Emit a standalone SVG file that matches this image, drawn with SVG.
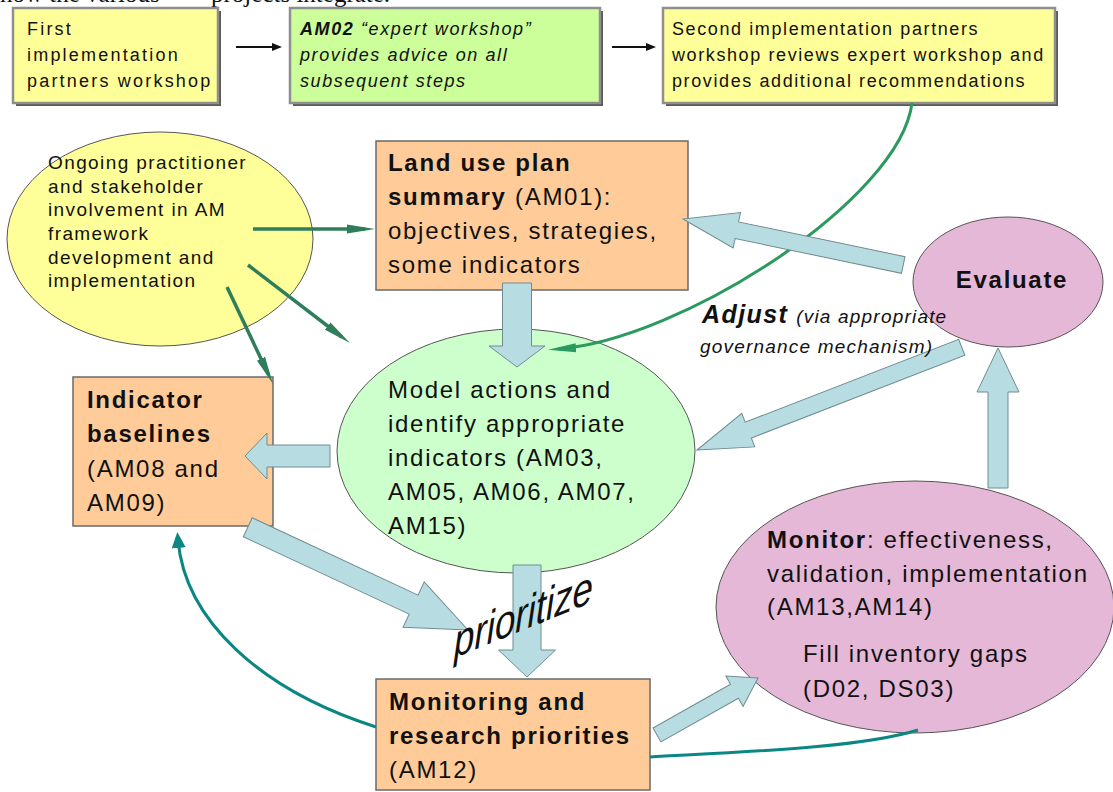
<svg xmlns="http://www.w3.org/2000/svg" width="1113" height="792" viewBox="0 0 1113 792">
<style>
text{font-family:"Liberation Sans",Arial,sans-serif;fill:#111}
.cap{font-family:"Liberation Serif","Times New Roman",serif;font-size:25px}
.t18{font-size:18px;letter-spacing:1.6px}
.t19{font-size:19px;letter-spacing:1.4px}
.t24{font-size:24px;letter-spacing:1.7px}
.b{font-weight:bold}
.i{font-style:italic}
.shadow{fill:#5a5a5a}
.tb{stroke:#8f8f8f;stroke-width:2.5}
.yel{fill:#ffff99}
.lg{fill:#ccff99}
.org{fill:#ffcc99;stroke:#6a6a6a;stroke-width:1.5}
.ye{fill:#ffff99;stroke:#555;stroke-width:1}
.ge{fill:#ccffcc;stroke:#555;stroke-width:1}
.pe{fill:#e5b8d7;stroke:#555;stroke-width:1}
.ba{fill:#b7dde3;stroke:#6f8c90;stroke-width:1}
.gl{stroke:#2e7d5b;stroke-width:3.5;fill:none}
.gc{stroke:#2a9a5e;stroke-width:3;fill:none}
.tl{stroke:#0b8783;stroke-width:3;fill:none}
.bk{stroke:#111;stroke-width:2;fill:none}
</style>
<defs>
<marker id="gh" markerUnits="userSpaceOnUse" viewBox="0 0 30 10" markerWidth="30" markerHeight="10" refX="18" refY="5" orient="auto"><path d="M0,0.5 L28,5 L0,9.5 z" fill="#2e7d5b"/></marker>
<marker id="gch" markerUnits="userSpaceOnUse" viewBox="0 0 30 10" markerWidth="30" markerHeight="10" refX="18" refY="5" orient="auto"><path d="M0,0.5 L28,5 L0,9.5 z" fill="#2a9a5e"/></marker>
<marker id="th" markerUnits="userSpaceOnUse" viewBox="0 0 16 14" markerWidth="16" markerHeight="14" refX="8" refY="7" orient="auto"><path d="M0,0 L16,7 L0,14 z" fill="#0b8783"/></marker>
<marker id="bh" markerUnits="userSpaceOnUse" viewBox="0 0 10 8" markerWidth="10" markerHeight="8" refX="4" refY="4" orient="auto"><path d="M0,0 L10,4 L0,8 z" fill="#111"/></marker>
</defs>
<rect width="1113" height="792" fill="#ffffff"/>
<g id="caption">
<text class="cap" x="0" y="2">how the various</text>
<text class="cap" x="211" y="2">projects integrate.</text>
</g>

<g id="box1">
<rect class="shadow" x="16" y="11" width="205" height="95"/>
<rect class="yel tb" x="13" y="8" width="205" height="95"/>
<text class="t18" x="27" style="letter-spacing:2.2px"><tspan x="27" y="35">First</tspan><tspan x="27" y="61">implementation</tspan><tspan x="27" y="87">partners workshop</tspan></text>
</g>
<g id="box2">
<rect class="shadow" x="293" y="11" width="310" height="95"/>
<rect class="lg tb" x="290" y="8" width="310" height="95"/>
<text class="t18 i" x="300"><tspan x="300" y="35"><tspan class="b">AM02</tspan> “expert workshop”</tspan><tspan x="300" y="61">provides advice on all</tspan><tspan x="300" y="87">subsequent steps</tspan></text>
</g>
<g id="box3">
<rect class="shadow" x="666" y="11" width="392" height="95"/>
<rect class="yel tb" x="663" y="8" width="392" height="95"/>
<text class="t18" x="672"><tspan x="672" y="35">Second implementation partners</tspan><tspan x="672" y="61">workshop reviews expert workshop and</tspan><tspan x="672" y="87">provides additional recommendations</tspan></text>
</g>
<g id="ongoing">
<ellipse class="ye" cx="160" cy="239" rx="153" ry="107"/>
<text class="t19" x="48"><tspan x="48" y="169">Ongoing practitioner</tspan><tspan x="48" y="193">and stakeholder</tspan><tspan x="48" y="216">involvement in AM</tspan><tspan x="48" y="240">framework</tspan><tspan x="48" y="264">development and</tspan><tspan x="48" y="287">implementation</tspan></text>
</g>
<g id="landuse">
<rect class="org" x="376" y="141" width="312" height="149"/>
<text class="t24" x="388"><tspan x="388" y="171" class="b">Land use plan</tspan><tspan x="388" y="205"><tspan class="b">summary</tspan> (AM01):</tspan><tspan x="388" y="239">objectives, strategies,</tspan><tspan x="388" y="273">some indicators</tspan></text>
</g>
<g id="evaluate">
<ellipse class="pe" cx="1008" cy="282" rx="95" ry="65"/>
<text class="t24 b" x="1012" y="288" text-anchor="middle">Evaluate</text>
</g>
<g id="model">
<ellipse class="ge" cx="516" cy="451" rx="179" ry="122"/>
<text class="t24" x="388"><tspan x="388" y="398">Model actions and</tspan><tspan x="388" y="432">identify appropriate</tspan><tspan x="388" y="466">indicators (AM03,</tspan><tspan x="388" y="500">AM05, AM06, AM07,</tspan><tspan x="388" y="534">AM15)</tspan></text>
</g>
<g id="indicator">
<rect class="org" x="73" y="377" width="200" height="149"/>
<text class="t24" x="87"><tspan x="87" y="408" class="b">Indicator</tspan><tspan x="87" y="442" class="b">baselines</tspan><tspan x="87" y="477">(AM08 and</tspan><tspan x="87" y="511">AM09)</tspan></text>
</g>
<g id="monitor">
<ellipse class="pe" cx="915" cy="607" rx="199" ry="126"/>
<text class="t24" x="767"><tspan x="767" y="548"><tspan class="b">Monitor</tspan>: effectiveness,</tspan><tspan x="767" y="582">validation, implementation</tspan><tspan x="767" y="615">(AM13,AM14)</tspan><tspan x="803" y="662">Fill inventory gaps</tspan><tspan x="803" y="697">(D02, DS03)</tspan></text>
</g>
<g id="monitoring">
<rect class="org" x="376" y="679" width="274" height="111"/>
<text class="t24" x="389"><tspan x="389" y="710" class="b">Monitoring and</tspan><tspan x="389" y="744" class="b">research priorities</tspan><tspan x="389" y="778">(AM12)</tspan></text>
</g>

<g id="connectors">
<line class="bk" x1="236" y1="47" x2="276" y2="47" marker-end="url(#bh)"/>
<line class="bk" x1="612" y1="47" x2="650" y2="47" marker-end="url(#bh)"/>
<line class="gl" x1="253" y1="229" x2="365" y2="229" marker-end="url(#gh)"/>
<line class="gl" x1="248" y1="265" x2="342" y2="337" marker-end="url(#gh)"/>
<line class="gl" x1="227" y1="287" x2="268.7" y2="375" marker-end="url(#gh)"/>
<path class="gc" d="M912,103 C900,200 680,340 558,349" marker-end="url(#gch)"/>
<path class="tl" d="M376,727 C260,690 185,620 178,540" marker-end="url(#th)"/>
<path class="tl" d="M650,757 C740,752 860,748 918,730"/>
<polygon class="ba" points="0,0 -21,-28 -21,-14.5 -84,-14.5 -84,14.5 -21,14.5 -21,28" transform="translate(517,367) rotate(90)"/>
<polygon class="ba" points="0,0 -55,-18 -55,-8.5 -225,-8.5 -225,8.5 -55,8.5 -55,18" transform="translate(683,219) rotate(191.8)"/>
<polygon class="ba" points="0,0 -55,-18 -55,-8.5 -284,-8.5 -284,8.5 -55,8.5 -55,18" transform="translate(697,450) rotate(158.8)"/>
<polygon class="ba" points="0,0 -44,-21 -44,-10 -140,-10 -140,10 -44,10 -44,21" transform="translate(998,348) rotate(-90)"/>
<polygon class="ba" points="0,0 -22,-23 -22,-11 -85,-11 -85,11 -22,11 -22,23" transform="translate(245,456) rotate(180)"/>
<polygon class="ba" points="0,0 -60,-25 -60,-10.5 -243,-10.5 -243,10.5 -60,10.5 -60,25" transform="translate(468,630) rotate(25)"/>
<polygon class="ba" points="0,0 -27,-28.5 -27,-14 -112,-14 -112,14 -27,14 -27,28.5" transform="translate(527,677) rotate(90)"/>
<polygon class="ba" points="0,0 -27,-17.5 -27,-8 -116,-8 -116,8 -27,8 -27,17.5" transform="translate(758,678) rotate(-29.4)"/>
</g>

<g id="labels">
<text x="702" y="323"><tspan class="b i" style="font-size:25px;letter-spacing:1.4px">Adjust</tspan><tspan class="i" style="font-size:19px;letter-spacing:1.2px" dx="8">(via appropriate</tspan></text>
<text class="i" x="700" y="353" style="font-size:19px;letter-spacing:1.2px">governance mechanism)</text>
<text class="i" style="font-size:46px" transform="translate(454,658) skewY(-22) scale(0.8,1)">prioritize</text>
</g>
</svg>
